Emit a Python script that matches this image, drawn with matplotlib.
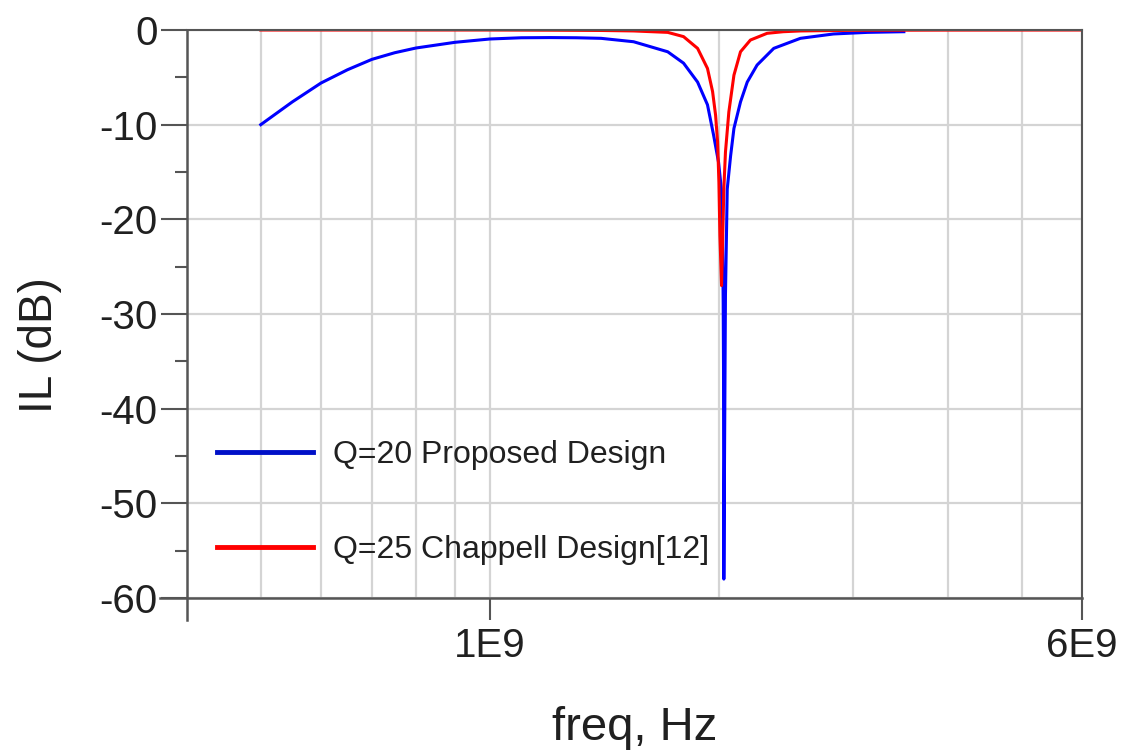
import numpy as np
import matplotlib
matplotlib.use("Agg")
import matplotlib.pyplot as plt
from matplotlib.ticker import FixedLocator, NullFormatter

plt.rcParams['font.family'] = ['Liberation Sans', 'DejaVu Sans']
plt.rcParams['axes.unicode_minus'] = False

# Q=20 proposed design (freq in GHz, IL in dB)
f_blue = [0.5, 0.55, 0.6, 0.65, 0.7, 0.75, 0.8, 0.9, 1.0, 1.1, 1.2, 1.3, 1.4,
          1.545, 1.713, 1.797, 1.875, 1.932, 1.968, 1.998, 2.015, 2.022, 2.026,
          2.028, 2.030, 2.040, 2.051, 2.072, 2.093, 2.135, 2.179, 2.245, 2.361,
          2.559, 2.828, 3.134, 3.5]
il_blue = [-10.0, -7.6, -5.6, -4.2, -3.1, -2.4, -1.9, -1.3, -0.95, -0.82, -0.8, -0.82, -0.88,
           -1.24, -2.3, -3.5, -5.5, -7.9, -11.1, -14.0, -16.8, -21.7, -28.8,
           -35.6, -58.0, -28.0, -16.8, -13.3, -10.4, -7.6, -5.5, -3.7, -1.94,
           -0.88, -0.42, -0.25, -0.18]

# Q=25 Chappell design [12]
f_red = [0.5, 0.8, 1.0, 1.2, 1.4, 1.545, 1.713, 1.797, 1.875, 1.932, 1.962, 1.98,
         1.992, 2.0, 2.006, 2.016, 2.030, 2.040, 2.061, 2.093, 2.135, 2.2, 2.314,
         2.43, 2.559, 3.0, 4.0, 6.0]
il_red = [0.0, 0.0, 0.0, -0.02, -0.05, -0.1, -0.25, -0.7, -1.94, -4.06, -6.5, -9.0,
          -11.8, -16.1, -21.7, -27.0, -16.8, -12.9, -8.66, -4.77, -2.3, -1.06, -0.35,
          -0.18, -0.1, -0.03, -0.01, 0.0]

labels = ["Q=20 Proposed Design", "Q=25 Chappell Design[12]"]

W, H = 1127, 756
fig = plt.figure(figsize=(W / 100, H / 100), dpi=100)
ax = fig.add_axes([187 / W, 1 - 598 / H, (1082 - 187) / W, (598 - 30) / H])

ax.plot(np.array(f_blue) * 1e9, il_blue, color='#0000ff', lw=2.2, label=labels[0])
ax.plot(np.array(f_red) * 1e9, il_red, color='#ff0000', lw=2.2, label=labels[1])

ax.set_xscale('log')
ax.set_xlim(4e8, 6e9)
ax.set_ylim(-60, 0)

axc = '#555555'
gc = '#d4d4d4'

ax.xaxis.set_major_locator(FixedLocator([1e9, 6e9]))
ax.set_xticklabels(['1E9', '6E9'])
ax.xaxis.set_minor_locator(FixedLocator([5e8, 6e8, 7e8, 8e8, 9e8, 2e9, 3e9, 4e9, 5e9]))
ax.xaxis.set_minor_formatter(NullFormatter())
ax.set_yticks([0, -10, -20, -30, -40, -50, -60])
ax.yaxis.set_minor_locator(FixedLocator([-5, -15, -25, -35, -45, -55]))

ax.grid(True, which='major', color=gc, lw=1.6)
ax.grid(True, which='minor', axis='x', color=gc, lw=1.6)
ax.set_axisbelow(True)

ax.tick_params(axis='y', which='major', length=19, width=1.5, color=axc,
               labelsize=29, pad=2, labelcolor='#202020')
ax.tick_params(axis='y', which='minor', length=8.5, width=1.5, color=axc)
ax.tick_params(axis='x', which='major', length=16, width=1.5, color=axc,
               labelsize=29, pad=5, labelcolor='#202020')
ax.tick_params(axis='x', which='minor', length=0)

for s in ['top', 'right']:
    ax.spines[s].set_color(axc)
    ax.spines[s].set_linewidth(1.5)
for s in ['left', 'bottom']:
    ax.spines[s].set_visible(False)

# extended ADS-style axis lines
ax.plot([0, 0], [1, -22 / 568], transform=ax.transAxes, color=axc, lw=1.8,
        clip_on=False)
ax.plot([-27 / 895, 1], [0, 0], transform=ax.transAxes, color=axc, lw=1.8,
        clip_on=False)

ax.set_xlabel('freq, Hz', fontsize=34, color='#202020')
ax.xaxis.set_label_coords(0.5, (598 - 706) / 568)
ax.set_ylabel('IL (dB)', fontsize=33, color='#202020')
ax.yaxis.set_label_coords((62 - 187) / 895, (598 - 345) / 568)

leg = ax.legend(loc='upper left', bbox_to_anchor=(217 / W, 1 - 440 / H),
                bbox_transform=fig.transFigure, frameon=False, fontsize=23,
                handlelength=3.0, handletextpad=0.62, labelspacing=2.05,
                borderpad=0, borderaxespad=0)
for h, c in zip(leg.legend_handles, ['#0010c8', '#ff0000']):
    h.set_linewidth(3.5)
    h.set_color(c)
for t in leg.get_texts():
    t.set_color('#202020')

fig.savefig('out.png', dpi=100)
